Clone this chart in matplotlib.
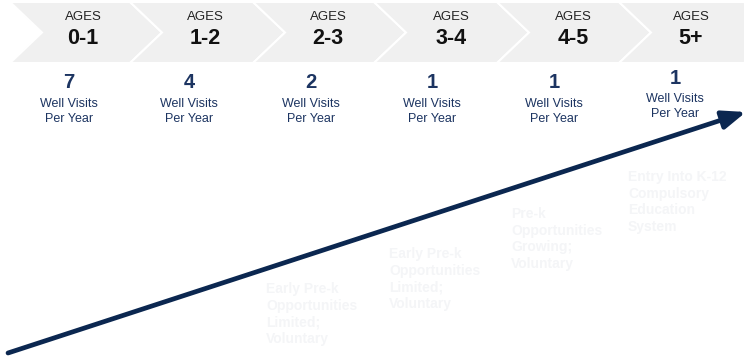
import matplotlib.pyplot as plt
from matplotlib.patches import Polygon

plt.rcParams['font.family'] = ['Liberation Sans', 'DejaVu Sans']

ages = ['0-1', '1-2', '2-3', '3-4', '4-5', '5+']
visits = [7, 4, 2, 1, 1, 1]
milestones = ['Early Pre-k\nOpportunities\nLimited;\nVoluntary',
              'Early Pre-k\nOpportunities\nLimited;\nVoluntary',
              'Pre-k\nOpportunities\nGrowing;\nVoluntary',
              'Entry Into K-12\nCompulsory\nEducation\nSystem']

grey = '#f0f0f0'
navy = '#1c3461'
arrow_col = '#0b2750'
faint = '#f4f5f7'

# chevron layout (pixel space)
edges = [10, 130, 253, 374, 497, 619, 745]
top, bot, tip = 2, 63, 32
label_x = [83, 205, 328, 451, 573, 691]
visit_x = [69, 189, 311, 432, 554, 675]
visit_dy = [0, 0, 0, 0, 0, -5]
mile_pos = [(266, 282), (389, 247), (511, 207), (628, 170)]

fig = plt.figure(figsize=(7.48, 3.58), dpi=100)
ax = fig.add_axes([0, 0, 1, 1])
ax.set_xlim(0, 748)
ax.set_ylim(358, 0)
ax.axis('off')

for i, a in enumerate(ages):
    x0, x1 = edges[i], edges[i + 1]
    if i < len(ages) - 1:
        pts = [(x0, top), (x1, top), (x1 + tip, (top + bot) / 2), (x1, bot), (x0, bot), (x0 + tip, (top + bot) / 2)]
    else:
        pts = [(x0, top), (x1, top), (x1, bot), (x0, bot), (x0 + tip, (top + bot) / 2)]
    ax.add_patch(Polygon(pts, closed=True, facecolor=grey, edgecolor='white', lw=1.5, zorder=1))
    ax.text(label_x[i], 17, 'AGES', ha='center', va='center', fontsize=9.5, color='#222222', zorder=3)
    ax.text(label_x[i], 39, a, ha='center', va='center', fontsize=15.5, fontweight='bold', color='#111111', zorder=3)

    dy = visit_dy[i]
    ax.text(visit_x[i], 83 + dy, str(visits[i]), ha='center', va='center', fontsize=14.5, fontweight='bold', color=navy)
    ax.text(visit_x[i], 111.5 + dy, 'Well Visits\nPer Year', ha='center', va='center', fontsize=9,
            color=navy, linespacing=1.25)

for (mx, my), m in zip(mile_pos, milestones):
    ax.text(mx, my, m, ha='left', va='top', fontsize=10, fontweight='bold', color=faint, linespacing=1.25)

ax.annotate('', xy=(746, 112), xytext=(8, 353),
            arrowprops=dict(arrowstyle='-|>,head_length=1.4,head_width=0.55', color=arrow_col, lw=3.4,
                            shrinkA=0, shrinkB=0))

fig.savefig('out.png', dpi=100)
